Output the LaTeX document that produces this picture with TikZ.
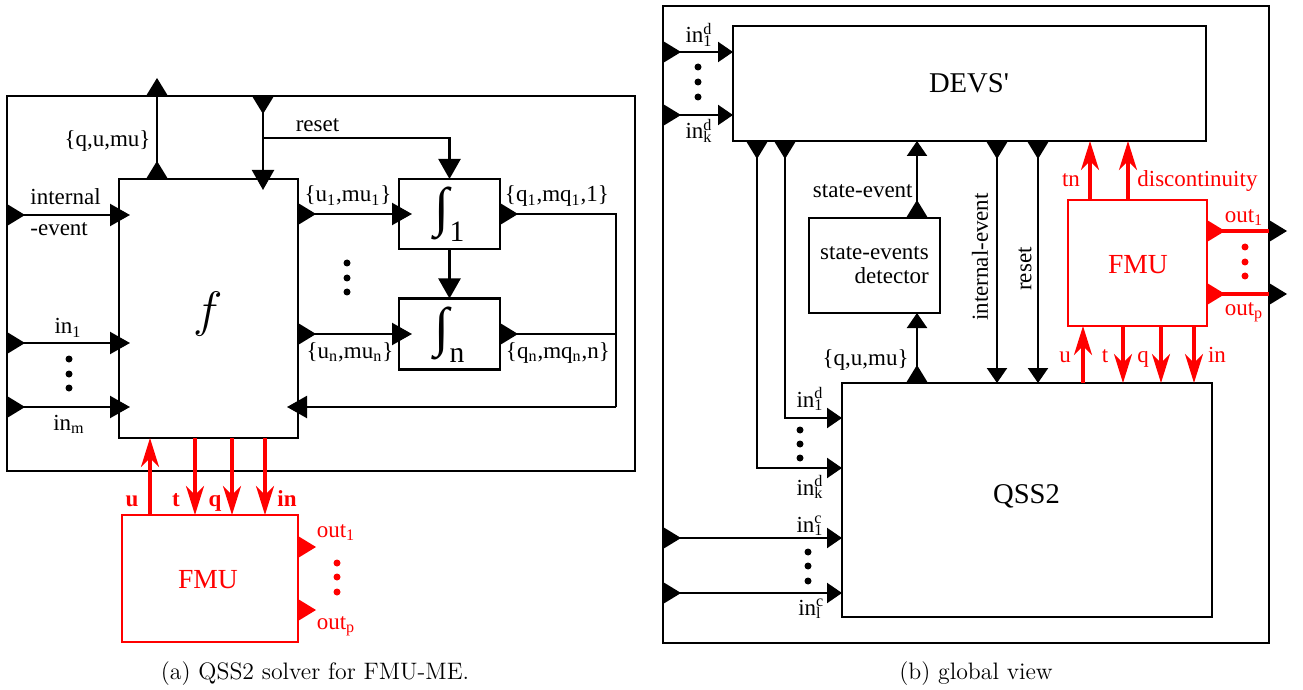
\documentclass[tikz,border=0pt]{standalone}
\usepackage{fontspec}
\newfontfamily\tms{Liberation Serif}
\usetikzlibrary{arrows.meta,calc}
\definecolor{fmured}{RGB}{255,0,0}
\newcommand{\lbl}{\tms\fontsize{11.5}{12}\selectfont}
\newcommand{\bigfnt}{\tms\fontsize{14.3}{15}\selectfont}
\newcommand{\intfnt}{\tms\fontsize{27}{27}\selectfont}
\newcommand{\inds}[2]{in\rlap{\textsuperscript{#1}}\textsubscript{#2}}
\begin{document}
\begin{tikzpicture}[x=0.5pt,y=-0.5pt,
 box/.style={draw,line width=1.1pt,inner sep=0,outer sep=0},
 rbox/.style={draw=fmured,line width=1.4pt,inner sep=0,outer sep=0},
 ln/.style={line width=1.1pt},
 arrL/.style={line width=1.1pt,-{Triangle[width=11pt,length=10pt]}},
 arrR/.style={line width=1.1pt,-{Triangle[width=10pt,length=7.5pt]}},
 rarr/.style={fmured,line width=1.6pt,-{Stealth[length=14.5pt,width=9pt,inset=4.5pt]}},
 rln/.style={fmured,line width=1.6pt},
 txt/.style={font=\lbl,inner sep=0},
 rtxt/.style={font=\lbl,text=fmured,inner sep=0},
 tri/.pic={\fill (0,-11) -- (18,0) -- (0,11) -- cycle;},
 rtri/.pic={\fill[fmured] (0,-11) -- (18,0) -- (0,11) -- cycle;}
]
\useasboundingbox (0,0) rectangle (1303,690);

% ================= LEFT =================
\node[box,minimum width=314pt,minimum height=187.5pt] (outerL) at (321,283.5) {};
\node[box,minimum width=89.5pt,minimum height=129.5pt] (f) at (208.5,308.5) {};
\node[box,minimum width=50.5pt,minimum height=35pt] (i1) at (449.5,214) {};
\node[box,minimum width=50.5pt,minimum height=35.5pt] (intn) at (449.5,334) {};
\node[rbox,minimum width=88pt,minimum height=63.5pt] (fmuL) at (210,578.5) {};

\coordinate (qL) at (157,0);
\coordinate (rL) at (263,0);
\coordinate (rB) at (263,138);
\coordinate (ieL) at (0,215);
\coordinate (in1L) at (0,343);
\coordinate (inmL) at (0,407);
\coordinate (u1L) at (0,214);
\coordinate (unL) at (0,334);
\coordinate (fb) at (616,407);
\coordinate (uL) at (150,0);
\coordinate (tL) at (195,0);
\coordinate (qqL) at (232,0);
\coordinate (iL) at (265,0);
\coordinate (o1L) at (0,547);
\coordinate (opL) at (0,610);

\draw[ln] (f.north -| qL) -- (outerL.north -| qL);
\pic[rotate=90] at (f.north -| qL) {tri};
\pic[rotate=90] at (outerL.north -| qL) {tri};
\pic[rotate=-90] at (outerL.north -| rL) {tri};
\draw[arrL,shorten >=-5.5pt] (outerL.north -| rL) -- (f.north -| rL);
\draw[arrL] (rB) -| (i1.north);
\draw[arrL] (i1.south) -- (intn.north);
\foreach \c in {ieL,in1L,inmL}{
  \pic at (outerL.west |- \c) {tri};
  \draw[arrL,shorten >=-5.5pt] (outerL.west |- \c) -- (f.west |- \c);
}
\pic at (f.east |- u1L) {tri};
\draw[arrL,shorten >=-6.5pt] (f.east |- u1L) -- (i1.west |- u1L);
\pic at (f.east |- unL) {tri};
\draw[arrL,shorten >=-6.5pt] (f.east |- unL) -- (intn.west |- unL);
\draw[ln] (i1.east) -| (fb);
\draw[ln] (intn.east) -- (intn.east -| fb);
\pic at (i1.east) {tri};
\pic at (intn.east) {tri};
\draw[arrL,shorten >=-5.5pt] (fb) -- (f.east |- fb);

\draw[rarr] (fmuL.north -| uL) -- (f.south -| uL);
\draw[rarr] (f.south -| tL) -- (fmuL.north -| tL);
\draw[rarr] (f.south -| qqL) -- (fmuL.north -| qqL);
\draw[rarr] (f.south -| iL) -- (fmuL.north -| iL);
\pic at (fmuL.east |- o1L) {rtri};
\pic at (fmuL.east |- opL) {rtri};

\foreach \y in {359,374,388} \fill (69,\y) circle[radius=1.75pt];
\foreach \y in {263,278,292} \fill (347,\y) circle[radius=1.75pt];
\foreach \y in {563,577,592} \fill[fmured] (337,\y) circle[radius=1.75pt];

\node[txt,anchor=base] at (107.5,147) {\{q,u,mu\}};
\node[txt,anchor=base] at (317.5,132) {reset};
\node[txt,anchor=base west] at (30,205) {internal};
\node[txt,anchor=base west] at (30,235) {-event};
\node[txt,anchor=base] at (68,334) {in\textsubscript{1}};
\node[txt,anchor=base] at (69,430) {in\textsubscript{m}};
\node[txt,anchor=base] at (348,202) {\{u\textsubscript{1},mu\textsubscript{1}\}};
\node[txt,anchor=base] at (350,358) {\{u\textsubscript{n},mu\textsubscript{n}\}};
\node[txt,anchor=base] at (557,202) {\{q\textsubscript{1},mq\textsubscript{1},1\}};
\node[txt,anchor=base] at (558,358) {\{q\textsubscript{n},mq\textsubscript{n},n\}};
\node[inner sep=0] at (208,314) {\fontsize{34}{34}\selectfont$f$};
\node[inner sep=0,font=\intfnt] at (442,213) {∫};
\node[inner sep=0,anchor=base,font=\tms\fontsize{14.8}{15}\selectfont] at (457,242) {1};
\node[inner sep=0,font=\intfnt] at (442,333) {∫};
\node[inner sep=0,anchor=base,font=\tms\fontsize{14.8}{15}\selectfont] at (457,362) {n};
\node[rtxt,anchor=base,font=\lbl\bfseries] at (132,506) {u};
\node[rtxt,anchor=base,font=\lbl\bfseries] at (176,506) {t};
\node[rtxt,anchor=base,font=\lbl\bfseries] at (215,506) {q};
\node[rtxt,anchor=base,font=\lbl\bfseries] at (287,506) {in};
\node[rtxt,anchor=base,font=\tms\fontsize{13.8}{14}\selectfont] at (208,588) {FMU};
\node[rtxt,anchor=base] at (336,537) {out\textsubscript{1}};
\node[rtxt,anchor=base] at (336,629) {out\textsubscript{p}};

% ================= RIGHT =================
\node[box,minimum width=303pt,minimum height=318.5pt] (outerR) at (966,324.5) {};
\node[box,minimum width=236.5pt,minimum height=57.5pt] (devs) at (969.5,83.5) {};
\node[box,minimum width=185pt,minimum height=117pt] (qss) at (1027,500) {};
\node[box,minimum width=65.5pt,minimum height=47.5pt] (det) at (874.5,265.5) {};
\node[rbox,minimum width=69.5pt,minimum height=63pt] (fmuR) at (1137.5,263) {};

\coordinate (d1R) at (0,52);
\coordinate (dkR) at (0,115);
\coordinate (c1R) at (0,538);
\coordinate (clR) at (0,593);
\coordinate (xa) at (757,0);
\coordinate (xb) at (785,0);
\coordinate (ya) at (0,468);
\coordinate (yb) at (0,418);
\coordinate (sx) at (917,0);
\coordinate (iex) at (997,0);
\coordinate (rsx) at (1038,0);
\coordinate (tnx) at (1090,0);
\coordinate (dcx) at (1128,0);
\coordinate (ux) at (1083,0);
\coordinate (tx) at (1123,0);
\coordinate (qx) at (1161,0);
\coordinate (inx) at (1194,0);
\coordinate (o1R) at (0,231);
\coordinate (opR) at (0,294);

\foreach \c in {d1R,dkR}{
  \pic at (outerR.west |- \c) {tri};
  \draw[arrR] (outerR.west |- \c) -- (devs.west |- \c);
}
\foreach \c in {c1R,clR}{
  \pic at (outerR.west |- \c) {tri};
  \draw[arrR] (outerR.west |- \c) -- (qss.west |- \c);
}
\draw[arrR] (devs.south -| xa) |- (qss.west |- ya);
\draw[arrR] (devs.south -| xb) |- (qss.west |- yb);
\pic[rotate=-90] at (devs.south -| xa) {tri};
\pic[rotate=-90] at (devs.south -| xb) {tri};
\draw[arrR] (det.north -| sx) -- (devs.south -| sx);
\pic[rotate=90] at (det.north -| sx) {tri};
\draw[arrR] (qss.north -| sx) -- (det.south -| sx);
\pic[rotate=90] at (qss.north -| sx) {tri};
\draw[arrR] (devs.south -| iex) -- (qss.north -| iex);
\pic[rotate=-90] at (devs.south -| iex) {tri};
\draw[arrR] (devs.south -| rsx) -- (qss.north -| rsx);
\pic[rotate=-90] at (devs.south -| rsx) {tri};

\draw[rarr] (fmuR.north -| tnx) -- (devs.south -| tnx);
\draw[rarr] (fmuR.north -| dcx) -- (devs.south -| dcx);
\draw[rarr] (qss.north -| ux) -- (fmuR.south -| ux);
\draw[rarr] (fmuR.south -| tx) -- (qss.north -| tx);
\draw[rarr] (fmuR.south -| qx) -- (qss.north -| qx);
\draw[rarr] (fmuR.south -| inx) -- (qss.north -| inx);
\foreach \c in {o1R,opR}{
  \draw[rln] (fmuR.east |- \c) -- (outerR.east |- \c);
  \pic at (fmuR.east |- \c) {rtri};
  \pic at (outerR.east |- \c) {tri};
}

\foreach \y in {67,82,97} \fill (698,\y) circle[radius=1.75pt];
\foreach \y in {430,444,458} \fill (800,\y) circle[radius=1.75pt];
\foreach \y in {552,566,581} \fill (808,\y) circle[radius=1.75pt];
\foreach \y in {247,262,276} \fill[fmured] (1245,\y) circle[radius=1.75pt];

\node[inner sep=0,anchor=base,font=\bigfnt] at (969,93) {DEVS'};
\node[inner sep=0,anchor=base,font=\bigfnt] at (1026.5,503) {QSS2};
\node[txt,align=right] at (874.5,265) {state-events\\detector};
\node[txt,anchor=base] at (699,43) {\inds{d}{1}};
\node[txt,anchor=base] at (699,139) {\inds{d}{k}};
\node[txt,anchor=base] at (810,407) {\inds{d}{1}};
\node[txt,anchor=base] at (810,495) {\inds{d}{k}};
\node[txt,anchor=base] at (810,532) {\inds{c}{1}};
\node[txt,anchor=base] at (810,615) {\inds{c}{l}};
\node[txt,anchor=base east] at (913,198) {state-event};
\node[txt,anchor=base east] at (909,365) {\{q,u,mu\}};
\node[txt,rotate=90] at (980,257) {internal-event};
\node[txt,rotate=90] at (1025,269) {reset};
\node[rtxt,anchor=base,font=\tms\fontsize{13.8}{14}\selectfont] at (1138,273) {FMU};
\node[rtxt,anchor=base] at (1071,187) {tn};
\node[rtxt,anchor=base west] at (1137,187) {discontinuity};
\node[rtxt,anchor=base] at (1065,362) {u};
\node[rtxt,anchor=base] at (1105,362) {t};
\node[rtxt,anchor=base] at (1143,362) {q};
\node[rtxt,anchor=base] at (1217,362) {in};
\node[rtxt,anchor=base] at (1244,222) {out\textsubscript{1}};
\node[rtxt,anchor=base] at (1244,315) {out\textsubscript{p}};

% captions
\node[inner sep=0,anchor=base,font=\fontsize{11.9}{14}\selectfont] at (315,679) {(a) QSS2 solver for FMU-ME.};
\node[inner sep=0,anchor=base,font=\fontsize{11.9}{14}\selectfont] at (976,679) {(b) global view};
\end{tikzpicture}
\end{document}
